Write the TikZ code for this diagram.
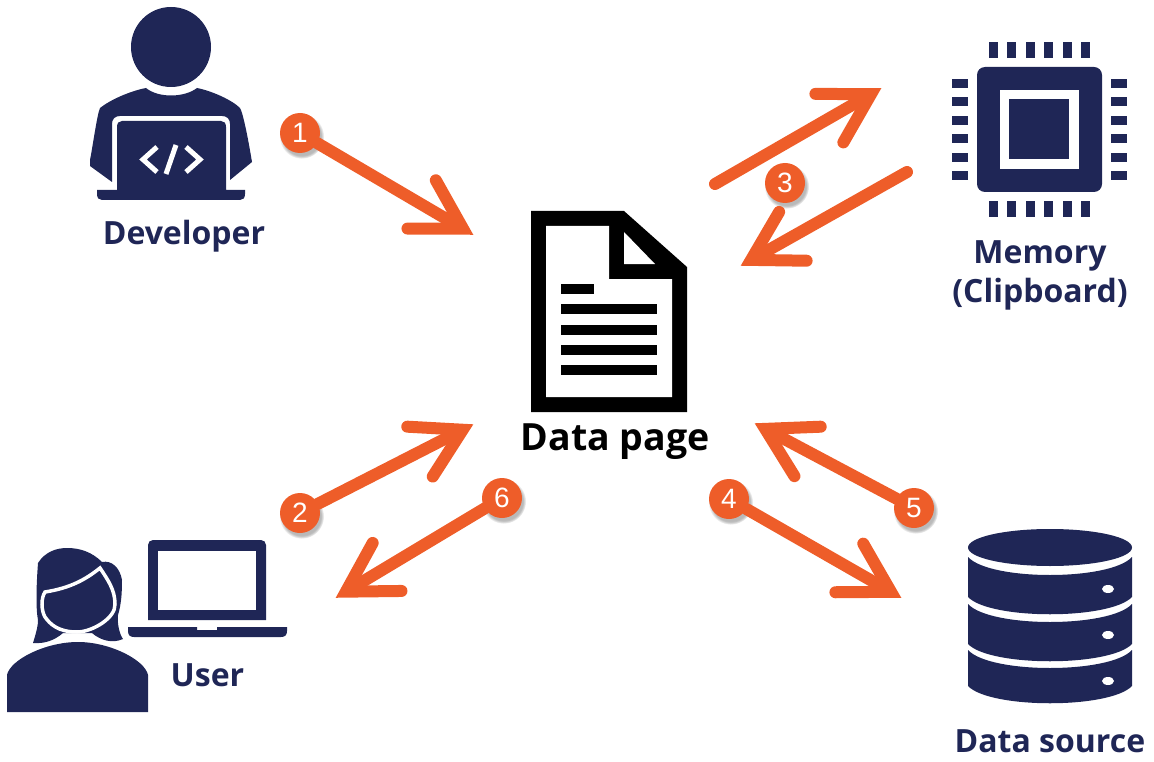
\documentclass[tikz,border=0pt]{standalone}
\usepackage{fontspec}
\setmainfont{Open Sans}
\newfontfamily\digitfont{Liberation Sans}
\usetikzlibrary{arrows.meta,shadows}
\definecolor{navy}{HTML}{1F2656}
\definecolor{flame}{HTML}{EE5D29}
\tikzset{
  flow/.style={draw=flame,line width=12pt,line cap=round,shorten >=-1.5pt,
    -{Straight Barb[length=48pt,width=56pt,line cap=round,line join=miter]}},
  badge/.style={circle,fill=flame,text=white,minimum size=40pt,inner sep=0pt,
    font=\digitfont\fontsize{28}{28}\selectfont,
    circular drop shadow={shadow xshift=1.5pt,shadow yshift=-3pt,shadow scale=1.12,opacity=.55}},
  caption/.style={text=navy,align=center,font=\bfseries\fontsize{32}{39}\selectfont},
  pin/.style={fill=navy}
}
\begin{document}
\begin{tikzpicture}[x=1pt,y=-1pt]
  \useasboundingbox (0,0) rectangle (1154,762);
  % developer
  \fill[navy] (171,47) circle (40);
  \fill[navy] (146,88) .. controls (158,98) and (184,98) .. (197,88)
    .. controls (212,91) and (232,100) .. (240,108)
    .. controls (244,115) and (250,150) .. (252,162)
    -- (230,180) -- (230,124) .. controls (230,119) and (227,116) .. (222,116)
    -- (120,116) .. controls (115,116) and (112,119) .. (112,124)
    -- (112,182) -- (90,166) -- (90,160)
    .. controls (93,145) and (97,115) .. (100,108)
    .. controls (110,100) and (130,91) .. (146,88) -- cycle;
  \fill[navy] (117,127) .. controls (117,123) and (119,121) .. (122,121)
    -- (221,121) .. controls (224,121) and (226,123) .. (226,127)
    -- (226,190) -- (245,190) -- (245,194) .. controls (245,198) and (243,200) .. (240,200)
    -- (102,200) .. controls (99,200) and (97,198) .. (97,194)
    -- (97,190) -- (117,190) -- cycle;
  \draw[white,line width=5pt] (157,147) -- (143,159.5) -- (157,172)
    (176,145) -- (166,174)
    (186,147) -- (200,159.5) -- (186,172);
  \node[caption] (developer) at (184,236) {Developer};
  % user
  \fill[navy] (33,643) .. controls (37,630) and (38,625) .. (38,620)
    .. controls (36,610) and (36,590) .. (38,563)
    .. controls (45,552) and (56,548) .. (67,548)
    .. controls (80,548) and (92,552) .. (102,562)
    .. controls (112,560) and (120,568) .. (122,580)
    .. controls (122,595) and (121,605) .. (118,615)
    .. controls (117,625) and (120,635) .. (123,639)
    .. controls (112,644) and (100,640) .. (92,633)
    -- (63,633) .. controls (55,640) and (45,644) .. (33,643) -- cycle;
  \fill[navy,draw=white,line width=3.5pt] (100,568)
    .. controls (85,580) and (70,588) .. (45,592)
    .. controls (41,598) and (41,610) .. (45,617)
    .. controls (50,624) and (58,632) .. (77,632)
    .. controls (92,632) and (116,618) .. (115,604)
    .. controls (115,590) and (108,580) .. (100,568) -- cycle;
  \fill[navy] (7,712) -- (7,675) .. controls (10,660) and (45,642) .. (78,642)
    .. controls (110,642) and (145,660) .. (148,675) -- (148,712) -- cycle;
  \fill[navy] (148,620) [rounded corners=5pt] -- (148,540) -- (266,540) [sharp corners] -- (266,620) -- cycle;
  \fill[white] (158,551) rectangle (256,610);
  \fill[navy] (128,627) -- (197,627) -- (197,630) -- (217,630) -- (217,627) -- (287,627)
    -- (287,631) .. controls (287,635) and (285,637) .. (281,637)
    -- (134,637) .. controls (130,637) and (128,635) .. (128,631) -- cycle;
  \node[caption] (user) at (207.5,675.5) {User};
  % document
  \fill[black] (531,211) -- (624,211) -- (687,267) -- (687,412) -- (531,412) -- cycle;
  \fill[white] (546,226) -- (609,226) -- (609,279) -- (672,279) -- (672,397) -- (546,397) -- cycle;
  \fill[white] (624,232) -- (624,264) -- (655,264) -- cycle;
  \fill[black] (561,284) rectangle (594,294);
  \foreach \y in {304,324.5,345,365}
    \fill[black] (561,\y) rectangle (657,\y+10);
  \node[caption,text=black,font=\bfseries\fontsize{37.5}{39}\selectfont] (datapage) at (615,441.5) {Data page};
  % chip
  \fill[navy,rounded corners=8pt] (977,67) rectangle (1102,192);
  \fill[white] (1000,90) rectangle (1079,169);
  \fill[navy] (1009,99) rectangle (1069,159);
  \foreach \i in {0,...,5} {
    \fill[pin] (989+18.4*\i,42) rectangle +(9,16);
    \fill[pin] (989+18.4*\i,201) rectangle +(9,16);
    \fill[pin] (952,79+18.4*\i) rectangle +(16,9);
    \fill[pin] (1111,79+18.4*\i) rectangle +(16,9);
  }
  \node[caption] (memory) at (1040,275) {Memory\\(Clipboard)};
  % database
  \fill[navy] (1050,547.5) ellipse (82 and 18.5);
  \foreach \t/\b/\d in {557/597/589,604/644/635,650/686/681} {
    \fill[navy] (968,\t) .. controls (990,\t+24) and (1110,\t+24) .. (1132,\t)
      -- (1132,\b) .. controls (1110,\b+23) and (990,\b+23) .. (968,\b) -- cycle;
    \fill[white] (1108,\d) ellipse (6 and 4);
  }
  \node[caption] (datasource) at (1050,741) {Data source};
  % numbered flows
  \coordinate (a1) at (472,234);
  \coordinate (a2) at (472,425);
  \coordinate (a3) at (880,89);
  \coordinate (s3) at (715,184);
  \coordinate (b3) at (742,265);
  \coordinate (e3) at (907,172);
  \coordinate (a4) at (900,597);
  \coordinate (a5) at (756,424);
  \coordinate (a6) at (337,597);
  \node[badge] (one) at (300,133) {1};
  \node[badge] (two) at (300,513) {2};
  \node[badge] (three) at (785,183) {3};
  \node[badge] (four) at (729,499) {4};
  \node[badge] (five) at (914,508) {5};
  \node[badge] (six) at (502,498) {6};
  \draw[flow] (one) -- (a1);
  \draw[flow] (two) -- (a2);
  \draw[flow] (s3) -- (a3);
  \draw[flow] (e3) -- (b3);
  \draw[flow] (four) -- (a4);
  \draw[flow] (five) -- (a5);
  \draw[flow] (six) -- (a6);
\end{tikzpicture}
\end{document}
